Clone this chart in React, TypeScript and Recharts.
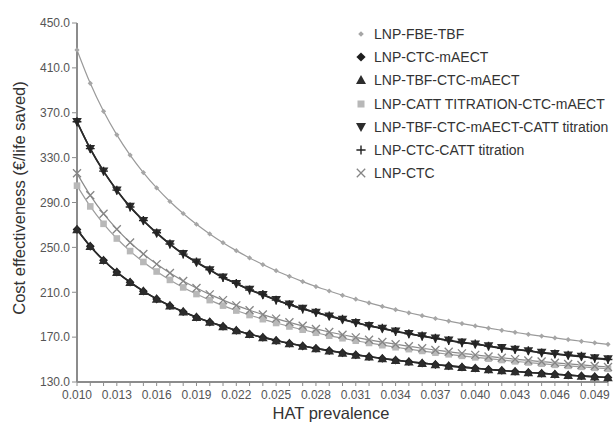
import React from "react";
import { LineChart, Line, XAxis, YAxis } from "recharts";

// HAT prevalence, one point every 0.001
const prevalence = [
  0.01, 0.011, 0.012, 0.013, 0.014, 0.015, 0.016, 0.017, 0.018, 0.019, 0.02,
  0.021, 0.022, 0.023, 0.024, 0.025, 0.026, 0.027, 0.028, 0.029, 0.03,
  0.031, 0.032, 0.033, 0.034, 0.035, 0.036, 0.037, 0.038, 0.039, 0.04,
  0.041, 0.042, 0.043, 0.044, 0.045, 0.046, 0.047, 0.048, 0.049, 0.05,
];

const fbeTbf = [
  426.0, 396.2, 371.3, 350.3, 332.3, 316.7, 303.0, 290.9, 280.2, 270.6, 262.0,
  254.2, 247.1, 240.6, 234.7, 229.2, 224.2, 219.5, 215.1, 211.1, 207.3,
  203.8, 200.5, 197.4, 194.5, 191.7, 189.1, 186.6, 184.3, 182.1, 180.0,
  178.0, 176.1, 174.3, 172.5, 170.9, 169.3, 167.8, 166.3, 164.9, 163.6,
];

const ctcMaect = [
  266, 251, 238.5, 228, 219, 211, 204, 198, 192.7, 187.8, 183.5,
  179.6, 176, 172.7, 169.8, 167, 164.5, 162.1, 160, 158, 156,
  154.2, 152.6, 151, 149.5, 148.1, 146.8, 145.6, 144.4, 143.3, 142.3,
  141.2, 140.3, 139.4, 138.5, 137.7, 136.9, 136.1, 135.4, 134.7, 134,
];

const tbfCtcMaect = [
  266.0, 251.0, 238.5, 227.9, 218.9, 211.0, 204.1, 198.1, 192.7, 187.8, 183.5,
  179.6, 176.0, 172.7, 169.8, 167.0, 164.5, 162.1, 159.9, 157.9, 156.0,
  154.2, 152.6, 151.0, 149.5, 148.1, 146.8, 145.6, 144.4, 143.3, 142.3,
  141.2, 140.3, 139.4, 138.5, 137.7, 136.9, 136.1, 135.4, 134.7, 134.0,
];

const cattCtcMaect = [
  305.0, 286.5, 271.0, 257.9, 246.7, 237.0, 228.5, 221.0, 214.3, 208.4, 203.0,
  198.1, 193.7, 189.7, 186.0, 182.6, 179.5, 176.6, 173.9, 171.3, 169.0,
  166.8, 164.8, 162.8, 161.0, 159.3, 157.7, 156.1, 154.7, 153.3, 152.0,
  150.8, 149.6, 148.4, 147.4, 146.3, 145.3, 144.4, 143.5, 142.6, 141.8,
];

const tbfCtcMaectCatt = [
  361.8, 337.8, 317.8, 300.8, 286.3, 273.7, 262.7, 253.0, 244.3, 236.6, 229.7,
  223.4, 217.6, 212.4, 207.6, 203.2, 199.2, 195.4, 191.9, 188.6, 185.6,
  182.8, 180.1, 177.6, 175.2, 173.0, 170.9, 168.9, 167.1, 165.3, 163.6,
  162.0, 160.4, 159.0, 157.6, 156.2, 155.0, 153.7, 152.6, 151.4, 150.4,
];

const ctcCatt = [
  362, 338, 318, 301, 286, 274, 263, 253, 244, 237, 230,
  223, 218, 212, 208, 203, 199, 195, 192, 189, 186,
  183, 180, 178, 175, 173, 171, 169, 167, 165, 164,
  162, 160, 159, 158, 156, 155, 154, 153, 151, 150,
];

const ctc = [
  316.0, 296.4, 280.0, 266.2, 254.3, 244.1, 235.1, 227.1, 220.1, 213.8, 208.1,
  203.0, 198.3, 194.0, 190.1, 186.5, 183.2, 180.1, 177.3, 174.6, 172.1,
  169.8, 167.6, 165.6, 163.7, 161.9, 160.1, 158.5, 157.0, 155.5, 154.2,
  152.8, 151.6, 150.4, 149.2, 148.2, 147.1, 146.1, 145.2, 144.2, 143.4,
];

const yTicks = [130, 170, 210, 250, 290, 330, 370, 410, 450];
const xLabelEvery = 3;

const data = prevalence.map((p, i) => ({
  p,
  fbeTbf: fbeTbf[i],
  ctcMaect: ctcMaect[i],
  tbfCtcMaect: tbfCtcMaect[i],
  cattCtcMaect: cattCtcMaect[i],
  tbfCtcMaectCatt: tbfCtcMaectCatt[i],
  ctcCatt: ctcCatt[i],
  ctc: ctc[i],
}));

const FONT = "'Liberation Sans', Arial, sans-serif";

type Kind = "diamond" | "triangle" | "triangleDown" | "square" | "plus" | "cross";

function shape(kind: Kind, cx: number, cy: number, s: number, color: string, key?: any) {
  switch (kind) {
    case "diamond":
      return <polygon key={key} points={`${cx},${cy - s} ${cx + s},${cy} ${cx},${cy + s} ${cx - s},${cy}`} fill={color} />;
    case "triangle":
      return <polygon key={key} points={`${cx},${cy - s} ${cx + s},${cy + s * 0.8} ${cx - s},${cy + s * 0.8}`} fill={color} />;
    case "triangleDown":
      return <polygon key={key} points={`${cx},${cy + s} ${cx + s},${cy - s * 0.8} ${cx - s},${cy - s * 0.8}`} fill={color} />;
    case "square":
      return <rect key={key} x={cx - s} y={cy - s} width={s * 2} height={s * 2} fill={color} />;
    case "plus":
      return <path key={key} d={`M${cx - s},${cy}H${cx + s}M${cx},${cy - s}V${cy + s}`} stroke={color} strokeWidth={1.4} fill="none" />;
    default:
      return <path key={key} d={`M${cx - s},${cy - s}L${cx + s},${cy + s}M${cx - s},${cy + s}L${cx + s},${cy - s}`} stroke={color} strokeWidth={1.3} fill="none" />;
  }
}

const series = [
  { key: "fbeTbf", name: "LNP-FBE-TBF", kind: "diamond" as Kind, size: 2.6, color: "#a6a6a6", line: "#9a9a9a", width: 1.2 },
  { key: "ctcMaect", name: "LNP-CTC-mAECT", kind: "diamond" as Kind, size: 4.4, color: "#1e1e1e", line: "#2a2a2a", width: 1.6 },
  { key: "tbfCtcMaect", name: "LNP-TBF-CTC-mAECT", kind: "triangle" as Kind, size: 4.8, color: "#2c2c2c", line: "#2a2a2a", width: 1.6 },
  { key: "cattCtcMaect", name: "LNP-CATT TITRATION-CTC-mAECT", kind: "square" as Kind, size: 3.3, color: "#b8b8b8", line: "#9c9c9c", width: 1.2 },
  { key: "tbfCtcMaectCatt", name: "LNP-TBF-CTC-mAECT-CATT titration", kind: "triangleDown" as Kind, size: 4.8, color: "#2c2c2c", line: "#2a2a2a", width: 1.6 },
  { key: "ctcCatt", name: "LNP-CTC-CATT titration", kind: "plus" as Kind, size: 4.4, color: "#222", line: "#2a2a2a", width: 1.6 },
  { key: "ctc", name: "LNP-CTC", kind: "cross" as Kind, size: 4, color: "#858585", line: "#8a8a8a", width: 1.2 },
];

const XTick = (props: any) => {
  const { x, y, payload } = props;
  const i = Math.round((payload.value - prevalence[0]) * 1000);
  if (i % xLabelEvery !== 0) return <g />;
  return (
    <text x={x} y={y} dy="0.71em" textAnchor="middle" fill="#555" fontSize={12} fontFamily={FONT}>
      {payload.value.toFixed(3)}
    </text>
  );
};

export default function App() {
  return (
    <div style={{ position: "absolute", left: 0, top: 0, width: 613, height: 430, background: "#fff", fontFamily: FONT }}>
      <LineChart width={613} height={430} data={data} margin={{ top: 23, right: 5, bottom: 18, left: 0 }}>
        <XAxis
          dataKey="p"
          type="number"
          domain={[0.01, 0.05]}
          ticks={prevalence}
          interval={0}
          tick={<XTick />}
          tickSize={4}
          tickMargin={4}
          height={30}
          axisLine={{ stroke: "#8c8c8c", strokeWidth: 2 }}
          tickLine={{ stroke: "#8c8c8c" }}
        />
        <YAxis
          type="number"
          domain={[130, 450]}
          ticks={yTicks}
          interval={0}
          width={77}
          tickSize={5}
          tickMargin={2}
          tickFormatter={(v: number) => v.toFixed(1)}
          tick={{ fill: "#555", fontSize: 12, fontFamily: FONT }}
          axisLine={{ stroke: "#8c8c8c", strokeWidth: 2 }}
          tickLine={{ stroke: "#8c8c8c" }}
        />
        {series.map((s) => (
          <Line
            key={s.key}
            dataKey={s.key}
            name={s.name}
            type="monotone"
            stroke={s.line}
            strokeWidth={s.width}
            dot={(p: any) => shape(s.kind, p.cx, p.cy, s.size, s.color, p.index)}
            activeDot={false}
            isAnimationActive={false}
          />
        ))}
      </LineChart>

      <div style={{ position: "absolute", left: 354, top: 22, fontSize: 14, color: "#333" }}>
        {series.map((s) => (
          <div key={s.key} style={{ height: 23.3, display: "flex", alignItems: "center", whiteSpace: "nowrap" }}>
            <svg width={20} height={14} style={{ flex: "none" }}>
              {shape(s.kind, 7, 7, s.size + 0.2, s.color)}
            </svg>
            <span>{s.name}</span>
          </div>
        ))}
      </div>

      <div
        style={{
          position: "absolute",
          left: 19,
          top: 198,
          transform: "translate(-50%, -50%) rotate(-90deg)",
          whiteSpace: "nowrap",
          fontSize: 16.5,
          color: "#333",
        }}
      >
        Cost effectiveness (€/life saved)
      </div>
      <div
        style={{
          position: "absolute",
          left: 331,
          top: 403,
          transform: "translateX(-50%)",
          whiteSpace: "nowrap",
          fontSize: 16.5,
          lineHeight: "20px",
          color: "#333",
        }}
      >
        HAT prevalence
      </div>
    </div>
  );
}
